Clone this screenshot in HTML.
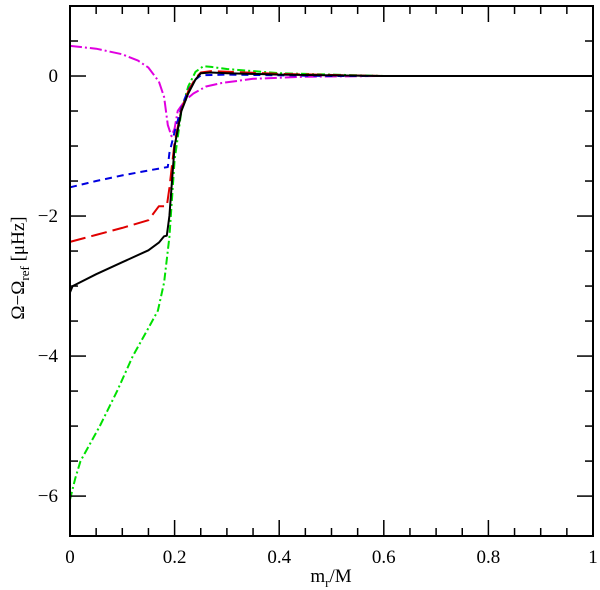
<!DOCTYPE html>
<html><head><meta charset="utf-8"><style>
html,body{margin:0;padding:0;background:#fff}
svg{display:block}
text{font-family:"Liberation Serif",serif;font-size:19px;fill:#000}
</style></head><body>
<svg id="chart" width="600" height="590" viewBox="0 0 600 590" xmlns="http://www.w3.org/2000/svg">
<g id="marks"></g>
<g id="axes"></g>
<text x="331" y="582" text-anchor="middle">m<tspan font-size="13" dy="5">r</tspan><tspan dy="-5">/M</tspan></text>
<text transform="translate(24,268) rotate(-90)" text-anchor="middle">Ω−Ω<tspan font-size="13" dy="5">ref</tspan><tspan dy="-5"> [μHz]</tspan></text>
</svg>
<script>
const xTicks=[0,0.2,0.4,0.6,0.8,1];
const xTickLabels=["0","0.2","0.4","0.6","0.8","1"];
const yTicks=[0,-2,-4,-6];
const yTickLabels=["0","-2","-4","-6"];
const blackX=[0,0.005,0.05,0.1,0.15,0.17,0.18,0.185,0.19,0.2,0.213,0.226,0.24,0.25,0.27,0.3,0.4,0.6,1];
const blackY=[-3.09,-3.0,-2.83,-2.66,-2.49,-2.38,-2.29,-2.28,-2.0,-1.0,-0.5,-0.25,-0.05,0.04,0.05,0.04,0.02,0,0];
const redX=[0,0.05,0.1,0.15,0.17,0.185,0.19,0.2,0.213,0.226,0.24,0.25,0.27,0.4,0.6,1];
const redY=[-2.37,-2.27,-2.17,-2.06,-1.86,-1.86,-1.6,-0.95,-0.48,-0.22,-0.03,0.05,0.07,0.03,0,0];
const blueX=[0,0.05,0.1,0.15,0.187,0.19,0.2,0.213,0.226,0.24,0.25,0.3,0.5,1];
const blueY=[-1.59,-1.5,-1.42,-1.35,-1.3,-1.1,-0.8,-0.45,-0.2,-0.05,0.01,0.02,0,0];
const greenX=[0,0.01,0.02,0.057,0.09,0.12,0.15,0.168,0.18,0.19,0.2,0.213,0.226,0.24,0.255,0.27,0.3,0.4,0.5,0.6,1];
const greenY=[-6.05,-5.75,-5.5,-5.0,-4.5,-4.0,-3.6,-3.35,-2.95,-2.3,-1.2,-0.5,-0.15,0.06,0.14,0.13,0.1,0.04,0.02,0,0];
const magX=[0,0.05,0.1,0.13,0.15,0.17,0.18,0.187,0.194,0.2,0.206,0.22,0.236,0.26,0.29,0.35,0.45,0.6,1];
const magY=[0.43,0.39,0.31,0.22,0.12,-0.08,-0.3,-0.7,-0.86,-0.75,-0.5,-0.35,-0.25,-0.15,-0.1,-0.04,-0.01,0,0];
const X0=70,X1=593,Y0=6,Y1=536,VMAX=1.0,VMIN=-6.57;
const sx=v=>X0+(X1-X0)*v;
const sy=v=>Y0+(VMAX-v)/(VMAX-VMIN)*(Y1-Y0);
const NS="http://www.w3.org/2000/svg";
const marks=document.getElementById('marks'),axes=document.getElementById('axes');
function series(xs,ys,color,dash,name){
 const p=document.createElementNS(NS,'path');
 
 
 p.setAttribute('d',xs.map((x,i)=>(i?'L':'M')+sx(x).toFixed(1)+' '+sy(ys[i]).toFixed(1)).join(' '));
 p.setAttribute('fill','none');p.setAttribute('stroke',color);p.setAttribute('stroke-width','2');
 p.setAttribute('stroke-linejoin','round');
 if(dash)p.setAttribute('stroke-dasharray',dash);
 marks.appendChild(p);
}
series(greenX,greenY,'#00e000','8 3 2 3','series-green');
series(magX,magY,'#e000e0','12 3 2 3','series-magenta');
series(blueX,blueY,'#0000e0','7 5','series-blue');
series(redX,redY,'#e00000','16 6','series-red');
series(blackX,blackY,'#000','','series-black');
function line(x1,y1,x2,y2,w){
 const l=document.createElementNS(NS,'line');
 l.setAttribute('x1',x1);l.setAttribute('y1',y1);l.setAttribute('x2',x2);l.setAttribute('y2',y2);
 l.setAttribute('stroke','#000');l.setAttribute('stroke-width',w||1.5);
 axes.appendChild(l);return l;
}
const fr=document.createElementNS(NS,'rect');


fr.setAttribute('x',X0);fr.setAttribute('y',Y0);fr.setAttribute('width',X1-X0);fr.setAttribute('height',Y1-Y0);
fr.setAttribute('fill','none');fr.setAttribute('stroke','#000');fr.setAttribute('stroke-width','2');
axes.appendChild(fr);
for(let i=0;i<=20;i++){const v=i/20,len=(i%4==0)?16:8;
 line(sx(v),Y1,sx(v),Y1-len);line(sx(v),Y0,sx(v),Y0+len);}
for(let i=0;i<=14;i++){const v=1-i*0.5;if(v<VMIN)break;const len=(Math.abs(v)%2==0)?16:8;
 line(X0,sy(v),X0+len,sy(v));line(X1,sy(v),X1-len,sy(v));}
xTicks.forEach((v,i)=>{const t=document.createElementNS(NS,'text');
 
 
 t.setAttribute('x',sx(v));t.setAttribute('y',563);t.setAttribute('text-anchor','middle');
 t.textContent=xTickLabels[i];axes.appendChild(t);});
yTicks.forEach((v,i)=>{const t=document.createElementNS(NS,'text');
 
 
 t.setAttribute('x',58);t.setAttribute('y',sy(v)+6);t.setAttribute('text-anchor','end');
 t.textContent=yTickLabels[i].replace('-','−');axes.appendChild(t);});
</script>
</body></html>
